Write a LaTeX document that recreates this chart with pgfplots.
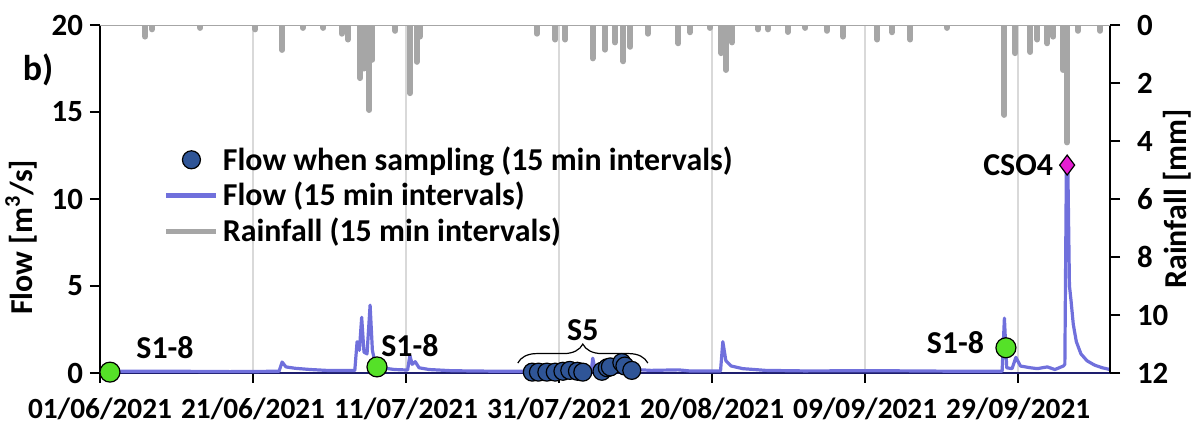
\documentclass[border=0pt]{standalone}
\usepackage{fontspec}
\setmainfont{Carlito}
\usepackage{pgfplots}
\pgfplotsset{compat=1.18}
\usetikzlibrary{calc,decorations.pathreplacing}
\definecolor{flowc}{RGB}{112,112,220}
\definecolor{rainc}{RGB}{166,166,166}
\definecolor{sampc}{RGB}{47,85,151}
\definecolor{greenc}{RGB}{85,225,40}
\definecolor{magc}{RGB}{230,30,210}
\definecolor{gridc}{RGB}{217,217,217}
\definecolor{navyc}{RGB}{30,30,110}
\pgfplotstableread{
d q
0 0.1
10 0.1
17 0.08
23.4 0.1
23.8 0.63
24.3 0.35
25.5 0.27
27.5 0.2
30 0.14
33.3 0.14
33.6 1.8
33.9 1.3
34.2 3.2
34.5 1.2
34.9 1.1
35.3 3.9
35.6 1.3
36.0 0.5
36.8 0.3
38.5 0.2
40.2 0.17
40.5 1.0
40.8 0.5
41.2 0.65
41.7 0.3
43 0.2
46 0.13
52 0.1
60 0.1
64.2 0.1
64.4 0.85
64.7 0.2
66 0.15
68.1 0.15
68.3 1.0
68.6 0.3
70 0.2
72 0.15
75.6 0.18
77 0.12
81.1 0.12
81.4 1.8
81.8 0.7
82.5 0.4
84 0.25
87 0.15
92 0.12
101.7 0.13
106 0.12
112 0.1
117.9 0.1
118.2 3.15
118.5 0.3
119.2 0.25
119.7 0.9
120.3 0.4
121.6 0.3
122.5 0.25
123.8 0.35
124.8 0.2
125.9 0.4
126.1 0.5
126.3 11.9
126.5 11.5
126.7 5.0
126.9 4.2
127.2 2.8
127.6 1.8
128.2 1.1
129 0.7
130 0.45
131 0.3
132 0.2
}\flowtab
\pgfplotstableread{
d q
56.5 0.05
57.3 0.05
58.4 0.05
59.5 0.05
60.5 0.1
61.4 0.15
62.4 0.1
63.1 0.05
65.6 0.1
66.3 0.3
66.7 0.35
68.2 0.6
68.6 0.4
69.5 0.15
}\samptab
\pgfplotstableread{
d r
5.9 0.4
6.8 0.15
13.1 0.1
20.3 0.15
23.8 0.86
26.5 0.1
29.2 0.1
31.6 0.3
32.4 0.5
34.0 1.83
34.5 1.5
35.2 2.93
35.6 1.2
38.6 0.2
40.5 2.35
41.4 1.27
41.8 0.4
57.1 0.3
59.5 0.5
60.8 0.5
64.4 1.15
66.0 0.85
67.3 0.6
68.4 1.25
69.3 0.75
71.6 0.3
75.6 0.63
77.1 0.25
79.7 0.1
81.2 0.97
81.8 1.55
82.6 0.6
86.0 0.15
87.3 0.15
89.9 0.24
92.2 0.1
95.0 0.2
97.1 0.4
101.6 0.5
103.5 0.25
105.9 0.5
110.7 0.1
118.2 3.1
119.6 0.97
121.6 0.93
122.5 0.5
123.8 0.63
124.6 0.4
125.9 1.55
126.4 4.05
127.8 0.2
130.7 0.2
}\raintab
\newcommand{\fs}{\fontsize{16}{19}\selectfont\bfseries}
\newcommand{\fy}{\fontsize{15.5}{18}\selectfont\bfseries}
\newcommand{\fx}{\fontsize{14.7}{17.5}\selectfont\bfseries}
\begin{document}
\begin{tikzpicture}
\begin{axis}[name=ax, scale only axis, width=505bp, height=174bp,
  xmin=0, xmax=132, ymin=0, ymax=20, clip=false,
  axis y line*=left, axis x line*=bottom,
  x axis line style={navyc, line width=1.2bp, -},
  y axis line style={black, line width=0.75bp, -},
  xtick={0,20,...,120},
  xticklabels={01/06/2021,21/06/2021,11/07/2021,31/07/2021,20/08/2021,09/09/2021,29/09/2021},
  ytick={0,5,...,20},
  tick align=outside, major tick length=5bp,
  tick style={black, line width=0.75bp},
  xmajorgrids, grid style={gridc, line width=1bp},
  yticklabel style={font=\fy},
  xticklabel style={font=\fx, yshift=-4bp},
  /pgf/number format/assume math mode=true,
  ylabel={Flow [m\textsuperscript{3}/s]},
  ylabel style={font=\fs, at={(rel axis cs:-0.078,0.39)}, anchor=center},
  legend style={at={(rel axis cs:0.057,0.675)}, anchor=north west, draw=none, fill=none, font=\fs, row sep=0.5bp, legend cell align=left},
]
\addlegendimage{legend image code/.code={\draw[fill=sampc,draw=black,line width=0.6bp] (12.5bp,0) circle (4.5bp);}}
\addlegendentry{Flow when sampling (15 min intervals)}
\addlegendimage{legend image code/.code={\draw[flowc,line width=2.5bp] (0,0)--(25bp,0);}}
\addlegendentry{Flow (15 min intervals)}
\addlegendimage{legend image code/.code={\draw[rainc,line width=2.5bp] (0,0)--(25bp,0);}}
\addlegendentry{Rainfall (15 min intervals)}
\addplot[flowc, line width=1.6bp, line join=round, forget plot] table[x=d,y=q] {\flowtab};
\addplot[only marks, mark=*, mark size=4.5bp, mark options={fill=sampc, draw=black, line width=0.6bp}, forget plot] table[x=d,y=q] {\samptab};
\addplot[only marks, mark=*, mark size=5bp, mark options={fill=greenc, draw=black, line width=0.6bp}, forget plot] coordinates {(1.3,0.05) (36.2,0.35) (118.4,1.45)};
\addplot[only marks, mark=diamond*, mark size=5bp, mark options={fill=magc, draw=black, line width=0.6bp}, forget plot] coordinates {(126.4,11.95)};
\node[font=\fs] at (axis cs:8.5,1.44) {S1-8};
\node[font=\fs] at (axis cs:40.5,1.6) {S1-8};
\node[font=\fs] at (axis cs:111.8,1.72) {S1-8};
\node[font=\fs] at (axis cs:120.0,11.95) {CSO4};
\node[font=\fs] at (axis cs:63.1,2.47) {S5};
\draw[decorate, decoration={brace, amplitude=9.5bp}, line width=0.6bp] (axis cs:54.6,0.57) -- (axis cs:71.6,0.57);
\node[font=\fontsize{18}{21}\selectfont\bfseries] at (rel axis cs:-0.0614,0.871) {b)};
\coordinate (sw) at (rel axis cs:0,0);
\coordinate (ne) at (rel axis cs:1,1);
\end{axis}
\begin{axis}[scale only axis, width=505bp, height=174bp,
  xmin=0, xmax=132, ymin=0, ymax=12, y dir=reverse,
  axis y line*=right, axis x line=none,
  y axis line style={black, line width=0.75bp, -},
  ytick={0,2,...,12},
  tick align=outside, major tick length=5bp,
  tick style={black, line width=0.75bp},
  yticklabel style={font=\fy, xshift=5bp},
  /pgf/number format/assume math mode=true,
  ylabel={Rainfall [mm]},
  ylabel style={font=\fs, at={(rel axis cs:1.067,0.5)}, anchor=center},
]
\addplot[rainc, line width=1.2bp] coordinates {(0,0) (132,0)};
\addplot[ycomb, rainc, line width=3bp, line cap=round] table[x=d,y=r] {\raintab};
\end{axis}
\pgfresetboundingbox
\path[use as bounding box] ($(sw)+(-50bp,-26.5bp)$) rectangle ($(ne)+(43.5bp,12.5bp)$);
\end{tikzpicture}
\end{document}
